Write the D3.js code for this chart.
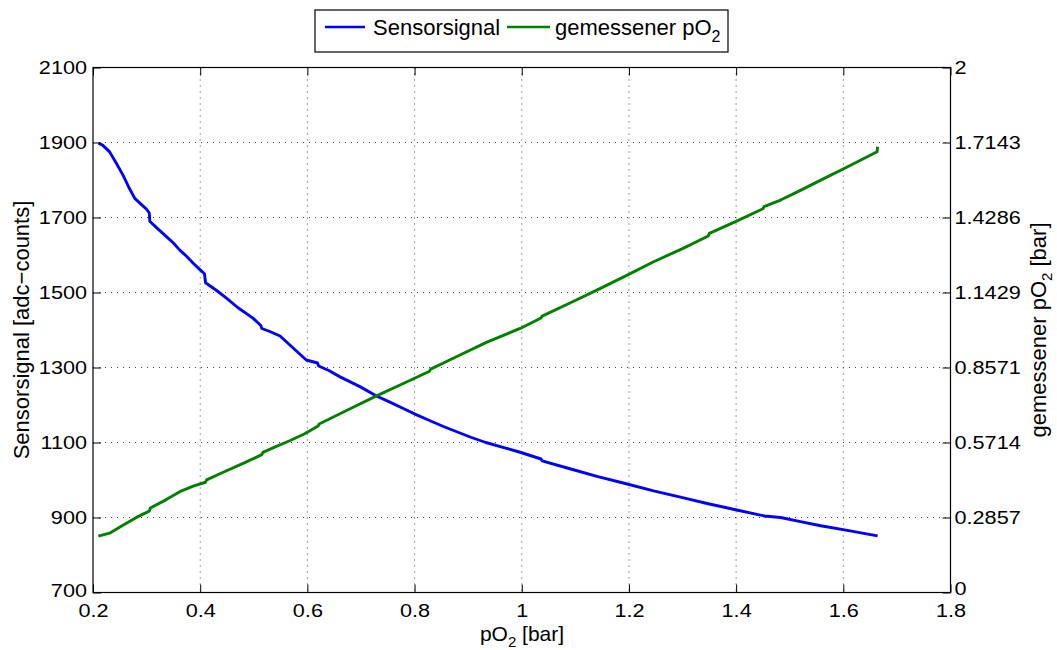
<!DOCTYPE html>
<html>
<head>
<meta charset="utf-8">
<script src="https://cdn.jsdelivr.net/npm/d3@7"></script>
<style>
  html, body { margin: 0; padding: 0; background: #fff; }
  svg { display: block; font-family: "Liberation Sans", Arial, Helvetica, sans-serif; }
</style>
</head>
<body>
<svg id="chart" width="1057" height="650"></svg>
<script>
// ---- data ----
const sensorX = [0.210,0.218,0.231,0.243,0.256,0.267,0.278,0.290,0.300,0.305,0.306,0.320,0.337,0.350,0.362,0.375,0.387,0.398,0.408,0.410,0.430,0.449,0.470,0.499,0.513,0.515,0.530,0.549,0.575,0.598,0.619,0.621,0.640,0.661,0.698,0.729,0.755,0.780,0.805,0.829,0.855,0.880,0.905,0.933,0.965,0.997,1.036,1.038,1.090,1.142,1.195,1.246,1.300,1.350,1.401,1.453,1.483,1.520,1.558,1.610,1.664];
const sensorSignal = [1898,1893,1875,1846,1813,1780,1751,1735,1722,1712,1690,1671,1649,1632,1613,1596,1578,1563,1550,1526,1506,1485,1460,1431,1412,1404,1396,1384,1350,1320,1312,1304,1292,1275,1249,1224,1207,1190,1173,1158,1142,1128,1114,1100,1087,1074,1056,1051,1030,1009,990,971,953,936,920,904,900,889,878,865,851];
const measuredX = [0.210,0.231,0.255,0.281,0.305,0.307,0.335,0.362,0.387,0.410,0.412,0.445,0.480,0.515,0.517,0.540,0.567,0.595,0.620,0.622,0.675,0.729,0.780,0.828,0.830,0.880,0.933,0.997,1.036,1.038,1.090,1.142,1.195,1.246,1.300,1.348,1.350,1.400,1.450,1.452,1.483,1.520,1.558,1.610,1.663,1.664];
const measuredPO2 = [0.215,0.226,0.255,0.286,0.310,0.322,0.352,0.384,0.405,0.420,0.429,0.460,0.492,0.525,0.534,0.555,0.578,0.605,0.634,0.642,0.695,0.749,0.797,0.843,0.851,0.900,0.952,1.006,1.046,1.053,1.103,1.154,1.207,1.260,1.310,1.358,1.368,1.414,1.462,1.470,1.495,1.532,1.571,1.624,1.679,1.698];
const xTicks = [0.2,0.4,0.6,0.8,1,1.2,1.4,1.6,1.8];
const xTickLabels = ["0.2","0.4","0.6","0.8","1","1.2","1.4","1.6","1.8"];
const leftTicks = [700,900,1100,1300,1500,1700,1900,2100];
const rightTicks = [0,2/7,4/7,6/7,8/7,10/7,12/7,2];
const rightTickLabels = ["0","0.2857","0.5714","0.8571","1.1429","1.4286","1.7143","2"];
const legendLabels = ["Sensorsignal","gemessener pO"];

// ---- layout ----
const L = 93, R = 950.5, T = 67.5, B = 592.5;
const svg = d3.select("#chart");
const x = d3.scaleLinear().domain([0.2,1.8]).range([L,R]);
const yL = d3.scaleLinear().domain([700,2100]).range([B,T]);
const yR = d3.scaleLinear().domain([0,2]).range([B,T]);

// grid
const grid = svg.append("g").attr("stroke","#444").attr("stroke-width",1).attr("stroke-dasharray","1,5");
xTicks.slice(1,-1).forEach(v => grid.append("line").attr("x1",x(v)).attr("x2",x(v)).attr("y1",T).attr("y2",B));
leftTicks.slice(1,-1).forEach(v => grid.append("line").attr("x1",L).attr("x2",R).attr("y1",yL(v)).attr("y2",yL(v)));

// lines
const lineB = d3.line().x((d,i)=>x(sensorX[i])).y(d=>yL(d));
const lineG = d3.line().x((d,i)=>x(measuredX[i])).y(d=>yR(d));
svg.append("path").datum(sensorSignal).attr("d",lineB).attr("fill","none").attr("stroke","#0000ff").attr("stroke-width",2.9).attr("stroke-linejoin","round");
svg.append("path").datum(measuredPO2).attr("d",lineG).attr("fill","none").attr("stroke","#008000").attr("stroke-width",2.9).attr("stroke-linejoin","round");

// axes
function styleText(g, sx, dyFn) {
  g.selectAll(".tick text").each(function(d, i){
    const t = d3.select(this);
    const tx = +t.attr("x") || 0, ty = (+t.attr("y") || 0) + (dyFn ? dyFn(d, i) : 0);
    t.attr("x",0).attr("y",0).attr("transform",`translate(${tx},${ty}) scale(${sx},1)`);
  });
}
const fs = 19, sx = 1.14;
const gx = svg.append("g").attr("transform",`translate(0,${B})`)
  .call(d3.axisBottom(x).tickValues(xTicks).tickFormat((d,i)=>xTickLabels[i]).tickSize(-8).tickPadding(8));
gx.select(".domain").remove();
gx.selectAll("text").attr("font-size",fs).attr("fill","#000").attr("dy","0.85em");
gx.selectAll("line").attr("stroke","#000");
styleText(gx, sx);

const gxt = svg.append("g").attr("transform",`translate(0,${T})`)
  .call(d3.axisTop(x).tickValues(xTicks).tickFormat("").tickSize(-8));
gxt.select(".domain").remove();
gxt.selectAll("line").attr("stroke","#000");

const gl = svg.append("g").attr("transform",`translate(${L},0)`)
  .call(d3.axisLeft(yL).tickValues(leftTicks).tickFormat(d3.format("d")).tickSize(-8).tickPadding(6));
gl.select(".domain").remove();
gl.selectAll("text").attr("font-size",fs).attr("fill","#000").attr("dy","0.34em");
gl.selectAll("line").attr("stroke","#000");
styleText(gl, sx, (d,i) => i === 0 ? -2 : 0);

const gr = svg.append("g").attr("transform",`translate(${R},0)`)
  .call(d3.axisRight(yR).tickValues(rightTicks).tickFormat((d,i)=>rightTickLabels[i]).tickSize(-8).tickPadding(4));
gr.select(".domain").remove();
gr.selectAll("text").attr("font-size",fs).attr("fill","#000").attr("dy","0.34em");
gr.selectAll("line").attr("stroke","#000");
styleText(gr, sx, (d,i) => i === 0 ? -4 : 0);

// frame
svg.append("rect").attr("x",L).attr("y",T).attr("width",R-L).attr("height",B-T)
  .attr("fill","none").attr("stroke","#000").attr("stroke-width",1.2);

// axis labels
const xl = svg.append("text").attr("x",522).attr("y",641).attr("text-anchor","middle").attr("font-size",21).attr("fill","#000");
xl.append("tspan").text("pO");
xl.append("tspan").text("2").attr("font-size",15).attr("dy",6);
xl.append("tspan").text(" [bar]").attr("dy",-6);

svg.append("text").attr("transform",`translate(29,${(T+B)/2}) rotate(-90)`).attr("text-anchor","middle")
  .attr("font-size",22).attr("fill","#000").text("Sensorsignal [adc\u2212counts]");

const yr = svg.append("text").attr("transform",`translate(1046,${(T+B)/2}) rotate(-90)`).attr("text-anchor","middle")
  .attr("font-size",22).attr("fill","#000");
yr.append("tspan").text("gemessener pO");
yr.append("tspan").text("2").attr("font-size",15).attr("dy",6);
yr.append("tspan").text(" [bar]").attr("dy",-6);

// legend
const lg = svg.append("g");
lg.append("rect").attr("x",315).attr("y",10).attr("width",413).attr("height",42).attr("fill","#fff").attr("stroke","#000").attr("stroke-width",1.2);
lg.append("line").attr("x1",325).attr("x2",365).attr("y1",27).attr("y2",27).attr("stroke","#0000ff").attr("stroke-width",2.6);
lg.append("text").attr("x",373).attr("y",35).attr("font-size",22).attr("fill","#000").text(legendLabels[0]);
lg.append("line").attr("x1",507).attr("x2",550).attr("y1",27).attr("y2",27).attr("stroke","#008000").attr("stroke-width",2.6);
const lt = lg.append("text").attr("x",555).attr("y",35).attr("font-size",22).attr("fill","#000");
lt.append("tspan").text(legendLabels[1]);
lt.append("tspan").text("2").attr("font-size",16).attr("dy",7);
</script>
</body>
</html>
